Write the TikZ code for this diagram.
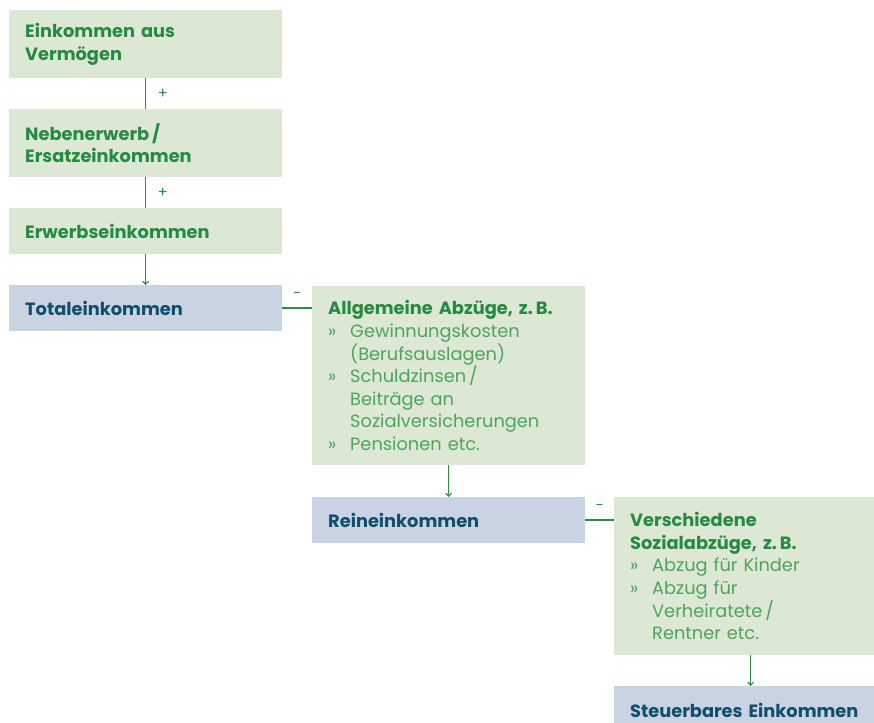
\documentclass[tikz,border=0pt]{standalone}
\usepackage{fontspec}
\setmainfont{Poppins}
\usetikzlibrary{arrows.meta}
\definecolor{boxgreen}{HTML}{DDE8D4}
\definecolor{boxblue}{HTML}{C9D3E2}
\definecolor{headgreen}{HTML}{268A43}
\definecolor{listgreen}{HTML}{4FA35E}
\definecolor{headblue}{HTML}{114E6E}
\definecolor{linegreen}{HTML}{2E8B47}
\newcommand\bitem[1]{{\mdseries\color{listgreen}\makebox[22pt][l]{»}#1}}
\newcommand\bcont[1]{{\mdseries\color{listgreen}\hspace*{22pt}#1}}
\begin{document}
\begin{tikzpicture}[x=1pt,y=-1pt,
  box/.style={anchor=north west, minimum width=273pt, text width=241pt,
    inner xsep=16pt, inner ysep=0pt, align=left,
    font=\fontsize{17.8}{22.6}\selectfont\bfseries},
  gbox/.style={box, fill=boxgreen, text=headgreen},
  bbox/.style={box, fill=boxblue, text=headblue},
  conn/.style={draw=linegreen, line width=1.5pt},
  arr/.style={conn, -{Straight Barb[length=3pt,width=6pt,line width=1.1pt]}},
  sign/.style={text=linegreen, font=\fontsize{15}{16}\selectfont, inner sep=0pt}]
\useasboundingbox (0,0) rectangle (874,722);

\node[gbox, minimum height=68pt] (verm) at (9,10) {Einkommen aus\\Vermögen};
\node[gbox, minimum height=68pt] (neben) at (9,109) {Nebenerwerb\,/\\Ersatzeinkommen};
\node[gbox, minimum height=46pt] (erw) at (9,208) {Erwerbseinkommen};
\node[bbox, minimum height=46pt] (total) at (9,285) {Totaleinkommen};

\node[gbox, minimum height=179pt] (allg) at (312,286) {Allgemeine Abzüge, z.\,B.\\
  \bitem{Gewinnungskosten}\\
  \bcont{(Berufsauslagen)}\\
  \bitem{Schuldzinsen\,/}\\
  \bcont{Beiträge an}\\
  \bcont{Sozialversicherungen}\\
  \bitem{Pensionen etc.}};
\node[bbox, minimum height=46pt] (rein) at (312,497) {Reineinkommen};

\node[gbox, minimum height=158pt] (versch) at (614,497) {Verschiedene\\Sozialabzüge, z.\,B.\\
  \bitem{Abzug für Kinder}\\
  \bitem{Abzug für}\\
  \bcont{Verheiratete\,/}\\
  \bcont{Rentner etc.}};
\node[bbox, minimum height=48pt] (steuer) at (614,686) {Steuerbares Einkommen};

\draw[conn] (verm.south) -- (neben.north) node[sign, midway, xshift=17pt] (p1) {+};
\draw[conn] (neben.south) -- (erw.north) node[sign, midway, xshift=17pt] (p2) {+};
\draw[arr] (erw.south) -- (total.north);
\draw[conn] (total.east) -- (total.east -| allg.west) node[sign, midway, yshift=13pt] (m1) {-};
\draw[arr] (allg.south) -- (rein.north);
\draw[conn] (rein.east) -- (rein.east -| versch.west) node[sign, midway, yshift=13pt] (m2) {-};
\draw[arr] (versch.south) -- (steuer.north);
\end{tikzpicture}
\end{document}
